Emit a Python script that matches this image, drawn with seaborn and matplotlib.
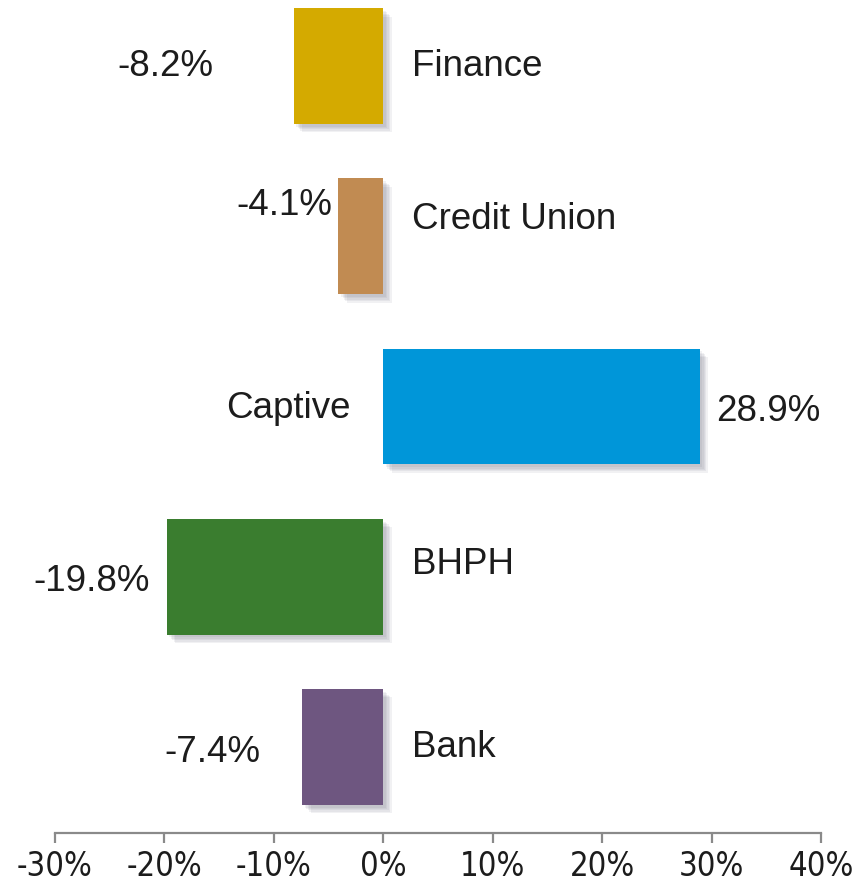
import matplotlib
matplotlib.use("Agg")
import matplotlib.pyplot as plt
import matplotlib.patheffects as pe
import seaborn as sns
import pandas as pd

# ---- data ----
categories = ["Finance", "Credit Union", "Captive", "BHPH", "Bank"]
values = [-8.2, -4.1, 28.9, -19.8, -7.4]
colors = ["#D4AA00", "#C18B52", "#0096D9", "#3A7D2F", "#6E5680"]
tick_values = [-30, -20, -10, 0, 10, 20, 30, 40]
tick_labels = ["-30%", "-20%", "-10%", "0%", "10%", "20%", "30%", "40%"]

# ---- label placement (data units) ----
value_label_x = [-15.5, -4.7, 30.4, -21.3, -11.2]
value_label_dy = [0.0, -0.18, 0.03, 0.03, 0.03]
name_label_x = [2.65, 2.65, -3.0, 2.65, 2.65]
name_label_dy = [0.0, -0.1, 0.01, -0.07, 0.0]

sns.set_style("white")
plt.rcParams["font.family"] = ["Liberation Sans", "DejaVu Sans"]

df = pd.DataFrame({"category": categories, "value": values})

fig = plt.figure(figsize=(8.68, 8.85), dpi=100)
ax = fig.add_axes([55 / 868, 52 / 885, (821 - 55) / 868, 833 / 885])

sns.barplot(data=df, x="value", y="category", hue="category",
            palette=dict(zip(categories, colors)), order=categories,
            hue_order=categories, orient="h", width=0.68, legend=False,
            saturation=1, linewidth=0, ax=ax)

shadow = [pe.SimplePatchShadow(offset=(d, -d), shadow_rgbFace="#6a6a7a", alpha=0.09)
          for d in (6, 5, 4, 3, 2)]
for p in ax.patches:
    p.set_path_effects(shadow + [pe.Normal()])

text_color = "#1c1c1c"
for i, (cat, v) in enumerate(zip(categories, values)):
    ha_v = "right" if v < 0 else "left"
    ax.text(value_label_x[i], i + value_label_dy[i], f"{v:.1f}%", ha=ha_v,
            va="center", fontsize=26.5, color=text_color)
    ha_n = "left" if v < 0 else "right"
    ax.text(name_label_x[i], i + name_label_dy[i], cat, ha=ha_n,
            va="center", fontsize=26.5, color=text_color)

ax.set_xlim(-30, 40)
ax.set_ylim(4.505, -0.388)
ax.set_xticks(tick_values)
ax.set_xticklabels(tick_labels, fontsize=23.5, color=text_color,
                   family=["DejaVu Sans"], fontstretch="condensed")
ax.set_yticks([])
ax.set_xlabel("")
ax.set_ylabel("")
for s in ["top", "left", "right"]:
    ax.spines[s].set_visible(False)
ax.spines["bottom"].set_color("#8a8a8a")
ax.spines["bottom"].set_linewidth(1.6)
ax.spines["bottom"].set_visible(True)
ax.tick_params(axis="x", direction="out", length=7.5, width=1.6,
               color="#8a8a8a", pad=5, bottom=True)
ax.patch.set_alpha(0)

fig.savefig("out.png", dpi=100, facecolor="white")
